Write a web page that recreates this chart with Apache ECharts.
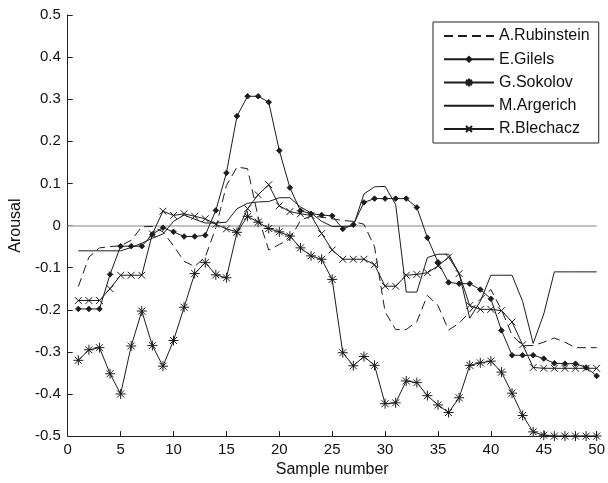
<!DOCTYPE html>
<html>
<head>
<meta charset="utf-8">
<script src="https://cdn.jsdelivr.net/npm/echarts@6/dist/echarts.min.js"></script>
<style>
  html, body { margin: 0; padding: 0; background: #fff; }
  #chart { width: 608px; height: 483px; }
</style>
</head>
<body>
<div id="chart"></div>
<script>
// Sample numbers along the x axis
const samples = [1,2,3,4,5,6,7,8,9,10,11,12,13,14,15,16,17,18,19,20,21,22,23,24,25,
                 26,27,28,29,30,31,32,33,34,35,36,37,38,39,40,41,42,43,44,45,46,47,48,49,50];

// Arousal per performer
const rubinstein = [-0.145,-0.075,-0.053,-0.050,-0.048,-0.035,-0.003,-0.002,-0.015,-0.048,
                    -0.085,-0.097,-0.075,-0.005,0.095,0.139,0.135,0.020,-0.058,-0.045,
                    -0.032,0.012,0.023,0.020,0.016,0.012,0.010,0.003,-0.050,-0.205,
                    -0.247,-0.247,-0.228,-0.166,-0.190,-0.248,-0.232,-0.205,-0.175,-0.152,
                    -0.200,-0.260,-0.285,-0.285,-0.277,-0.267,-0.277,-0.290,-0.290,-0.290];

const gilels = [-0.198,-0.198,-0.198,-0.116,-0.049,-0.049,-0.049,-0.021,-0.005,-0.015,
                -0.026,-0.026,-0.023,0.036,0.125,0.260,0.307,0.307,0.293,0.178,
                0.090,0.035,0.028,0.025,0.023,-0.008,0.002,0.055,0.064,0.064,
                0.064,0.064,0.043,-0.029,-0.087,-0.135,-0.138,-0.138,-0.152,-0.174,
                -0.249,-0.308,-0.308,-0.308,-0.316,-0.327,-0.328,-0.328,-0.337,-0.357];

const sokolov = [-0.320,-0.295,-0.290,-0.352,-0.400,-0.286,-0.203,-0.285,-0.334,-0.273,
                 -0.194,-0.114,-0.088,-0.117,-0.124,-0.016,0.022,0.008,-0.007,-0.015,
                 -0.025,-0.053,-0.072,-0.080,-0.128,-0.302,-0.333,-0.311,-0.332,-0.423,
                 -0.421,-0.369,-0.373,-0.404,-0.426,-0.444,-0.409,-0.332,-0.326,-0.322,
                 -0.348,-0.398,-0.451,-0.490,-0.498,-0.500,-0.500,-0.500,-0.500,-0.500];

const argerich = [-0.060,-0.060,-0.060,-0.060,-0.060,-0.052,-0.042,-0.030,-0.020,0.010,
                  0.025,0.015,0.006,0.006,0.008,0.040,0.053,0.056,0.057,0.066,
                  0.066,0.044,0.030,0.010,-0.002,-0.002,-0.001,0.075,0.092,0.093,
                  0.050,-0.158,-0.158,-0.076,-0.068,-0.068,-0.114,-0.220,-0.180,-0.118,
                  -0.118,-0.118,-0.180,-0.280,-0.210,-0.110,-0.110,-0.110,-0.110,-0.110];

const blechacz = [-0.178,-0.178,-0.178,-0.150,-0.118,-0.118,-0.118,-0.020,0.034,0.024,
                  0.028,0.022,0.016,0.003,-0.008,-0.015,0.040,0.073,0.097,0.047,
                  0.033,0.028,0.024,-0.019,-0.058,-0.080,-0.080,-0.080,-0.093,-0.144,
                  -0.144,-0.118,-0.116,-0.112,-0.096,-0.075,-0.114,-0.190,-0.199,-0.199,
                  -0.202,-0.229,-0.283,-0.337,-0.339,-0.339,-0.339,-0.339,-0.339,-0.339];

const names = ['A.Rubinstein', 'E.Gilels', 'G.Sokolov', 'M.Argerich', 'R.Blechacz'];

// Marker shapes (moveTo corners pad the box so the glyph keeps a small size)
const noMark = 'path://M0,0M1,1';
const dotMark = 'path://M0,0M12,12M6,3L9,6L6,9L3,6Z';
const starMark = 'path://M-1,-1M11,11M5,0L5,10M0,5L10,5M1.5,1.5L8.5,8.5M8.5,1.5L1.5,8.5';
const crossMark = 'path://M-3,-3M13,13M0,0L10,10M10,0L0,10';

const ink = '#1c1c1c';
const font = 'Liberation Sans, Arial, sans-serif';

function pairs(values) {
  return samples.map((s, i) => [s, values[i]]);
}

function lineSeries(name, values, symbol, size, extra) {
  return Object.assign({
    name: name,
    type: 'line',
    data: pairs(values),
    symbol: symbol,
    symbolSize: size,
    showSymbol: symbol !== noMark,
    lineStyle: { color: ink, width: 1 },
    itemStyle: { color: ink, borderColor: ink, borderWidth: 1 },
    emphasis: { disabled: true },
    animation: false,
    z: 3
  }, extra || {});
}

const chart = echarts.init(document.getElementById('chart'), null, { renderer: 'canvas' });

chart.setOption({
  backgroundColor: '#fff',
  animation: false,
  grid: { left: 65, right: 7, top: 15, bottom: 46, containLabel: false },
  legend: {
    orient: 'vertical',
    left: 433,
    top: 22,
    itemWidth: 50,
    itemHeight: 12,
    itemGap: 7.25,
    padding: [6, 9, 6, 10],
    borderColor: '#222',
    borderWidth: 1,
    backgroundColor: '#fff',
    selectedMode: false,
    textStyle: { fontFamily: font, fontSize: 16, color: '#111' },
    data: names
  },
  xAxis: {
    type: 'value',
    min: 0, max: 50, interval: 5,
    name: 'Sample number',
    nameLocation: 'middle',
    nameGap: 25,
    nameTextStyle: { fontFamily: font, fontSize: 16, color: '#111' },
    axisLine: { onZero: false, lineStyle: { color: '#222', width: 1 } },
    axisTick: { inside: true, length: 5, lineStyle: { color: '#222' } },
    axisLabel: { fontFamily: font, fontSize: 15, color: '#111', margin: 6 },
    splitLine: { show: false }
  },
  yAxis: {
    type: 'value',
    min: -0.5, max: 0.5, interval: 0.1,
    name: 'Arousal',
    nameLocation: 'middle',
    nameGap: 43,
    nameTextStyle: { fontFamily: font, fontSize: 16, color: '#111' },
    axisLine: { onZero: false, lineStyle: { color: '#222', width: 1 } },
    axisTick: { inside: true, length: 5, lineStyle: { color: '#222' } },
    axisLabel: {
      fontFamily: font, fontSize: 15, color: '#111', margin: 7,
      formatter: v => String(+v.toFixed(1))
    },
    splitLine: { show: false }
  },
  series: [
    lineSeries(names[0], rubinstein, noMark, 1, {
      lineStyle: { color: ink, width: 1, type: [9, 5] },
      markLine: {
        silent: true,
        symbol: 'none',
        label: { show: false },
        lineStyle: { color: '#adadad', width: 1.5, type: 'solid' },
        data: [{ yAxis: 0 }],
        z: 1
      }
    }),
    lineSeries(names[1], gilels, dotMark, 11),
    lineSeries(names[2], sokolov, starMark, 12),
    lineSeries(names[3], argerich, noMark, 1),
    lineSeries(names[4], blechacz, crossMark, 11)
  ]
});
</script>
</body>
</html>
